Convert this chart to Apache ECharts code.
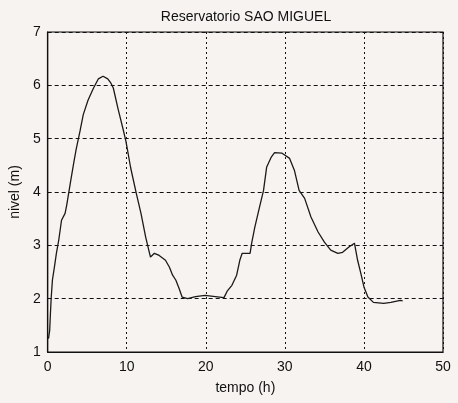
<!DOCTYPE html>
<html>
<head>
<meta charset="utf-8">
<script src="https://cdn.jsdelivr.net/npm/echarts@6/dist/echarts.min.js"></script>
<style>
html,body{margin:0;padding:0;background:#f7f3f0;}
#c{width:458px;height:403px;}
</style>
</head>
<body>
<div id="c"></div>
<script>
const titleText = 'Reservatorio SAO MIGUEL';
const xName = 'tempo (h)';
const yName = 'nivel (m)';
const tempo = [0.1,0.25,0.35,0.45,0.6,0.85,1.1,1.4,1.75,2.2,2.4,2.9,3.3,3.6,4.1,4.5,5.1,5.8,6.4,7.0,7.6,8.0,8.3,8.9,9.5,9.9,10.5,11.2,11.8,12.4,13.0,13.5,14.1,14.9,15.4,15.8,16.2,16.6,17.0,17.7,18.7,19.9,21.2,22.3,22.7,23.3,23.9,24.3,24.6,25.6,25.8,26.2,26.8,27.3,27.7,28.3,28.7,29.6,30.6,31.2,31.8,32.5,33.3,34.2,35.0,35.8,36.7,37.3,38.1,38.8,39.2,39.6,40.0,40.5,41.2,42.5,43.4,44.6,44.9];
const nivel = [1.25,1.4,1.73,2.03,2.35,2.59,2.85,3.1,3.47,3.6,3.75,4.2,4.55,4.8,5.15,5.45,5.72,5.95,6.12,6.17,6.12,6.04,5.95,5.56,5.2,4.95,4.45,3.98,3.6,3.15,2.78,2.85,2.81,2.72,2.59,2.44,2.35,2.2,2.03,2.0,2.04,2.06,2.04,2.02,2.14,2.25,2.44,2.72,2.85,2.85,3.04,3.34,3.72,4.03,4.47,4.66,4.74,4.73,4.63,4.41,4.03,3.88,3.53,3.25,3.06,2.91,2.85,2.87,2.97,3.04,2.72,2.48,2.22,2.03,1.93,1.91,1.93,1.97,1.96];

const data = tempo.map((t,i)=>[t,nivel[i]]);
const font = '"Liberation Sans", Arial, sans-serif';
const chart = echarts.init(document.getElementById('c'));
chart.setOption({
  backgroundColor: '#f7f3f0',
  animation: false,
  title: {text: titleText, left: 241, top: 5, textAlign: 'center',
    textStyle: {fontFamily: font, fontSize: 14, fontWeight: 'normal', color: '#111'}},
  grid: {left: 44, right: 15, top: 32, bottom: 51, show: true, borderColor: '#111', borderWidth: 1.2, backgroundColor: 'transparent'},
  xAxis: {type: 'value', min: 0, max: 50, interval: 10, name: xName, nameLocation: 'middle', nameGap: 29,
    nameTextStyle: {fontFamily: font, fontSize: 14, color: '#111'},
    axisLine: {show: true, lineStyle: {color: '#111', width: 1.2}},
    axisTick: {show: false},
    axisLabel: {fontFamily: font, fontSize: 14, color: '#111', margin: 8},
    splitLine: {show: true, lineStyle: {color: '#111', type: [2,3], width: 1}}},
  yAxis: {type: 'value', min: 1, max: 7, interval: 1, name: yName, nameLocation: 'middle', nameGap: 21,
    nameTextStyle: {fontFamily: font, fontSize: 14, color: '#111'},
    axisLine: {show: true, lineStyle: {color: '#111', width: 1.2}},
    axisTick: {show: false},
    axisLabel: {fontFamily: font, fontSize: 14, color: '#111', margin: 7},
    splitLine: {show: true, lineStyle: {color: '#111', type: [4,3], width: 1}}},
  series: [{type: 'line', data: data, showSymbol: false, lineStyle: {color: '#1a1a1a', width: 1.3}}]
});
</script>
</body>
</html>
